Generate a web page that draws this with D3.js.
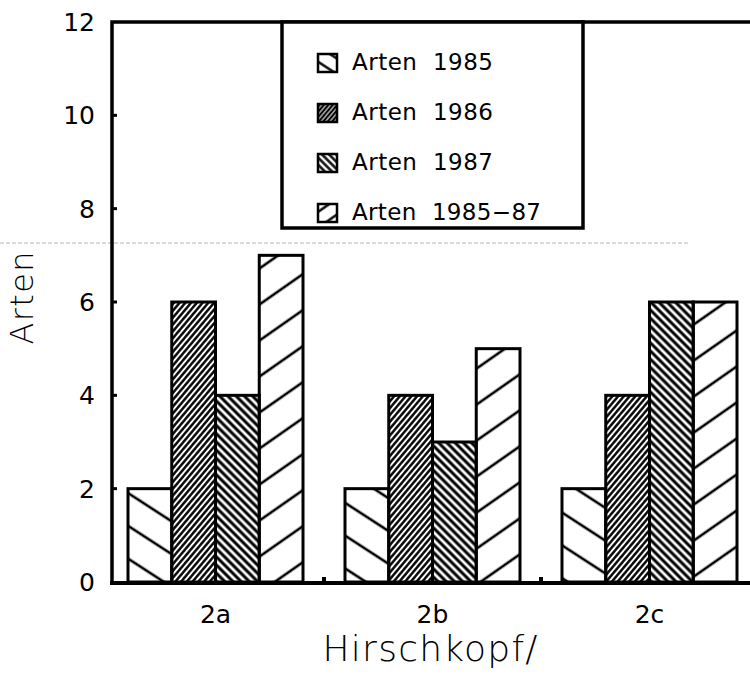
<!DOCTYPE html>
<html>
<head>
<meta charset="utf-8">
<script src="https://d3js.org/d3.v7.min.js"></script>
<style>
    body { margin: 0; background: #fff; }
    svg text { font-family: 'DejaVu Sans', sans-serif; fill: #000; }
</style>
</head>
<body>
<svg id="chart" width="750" height="680"></svg>
<script>
/* Arten per Hirschkopf site, 1985-87. Scanned plotter chart, so
   black hatched bars, heavy frame and a legend box hanging from the top. */

const sites = ['2a', '2b', '2c'];
const series = ['Arten 1985', 'Arten 1986', 'Arten 1987', 'Arten 1985\u221287'];
const arten1985 = [2, 2, 2];
const arten1986 = [6, 4, 4];
const arten1987 = [4, 3, 6];
const arten198587 = [7, 5, 6];
const yTicks = [0, 2, 4, 6, 8, 10, 12];

const values = [arten1985, arten1986, arten1987, arten198587];

// hatching per series: angle (deg, + is "\"), spacing, line width
const hatch = [
    {id: 'h85', angle: 33, gap: 27.5, width: 2.6, legendGap: 13},
    {id: 'h86', angle: -50, gap: 4.4, width: 2.4, legendGap: 3.4},
    {id: 'h87', angle: 45, gap: 5.8, width: 3.0, legendGap: 5},
    {id: 'h8587', angle: -35, gap: 29.5, width: 2.6, legendGap: 13}
];

const svg = d3.select('#chart');
const defs = svg.append('defs');

function makePattern(id, angle, gap, width) {
    let p = defs.append('pattern')
        .attr('id', id)
        .attr('patternUnits', 'userSpaceOnUse')
        .attr('width', 20)
        .attr('height', gap)
        .attr('patternTransform', `rotate(${angle})`);
    p.append('rect')
        .attr('x', 0).attr('y', gap / 2 - width / 2)
        .attr('width', 20).attr('height', width)
        .attr('fill', '#000');
}
hatch.forEach(h => {
    makePattern(h.id, h.angle, h.gap, h.width);
    makePattern(h.id + '-lg', h.angle, h.legendGap, Math.min(h.width, 2.4));
});

const x = d3.scaleBand()
    .domain(sites)
    .range([107, 758])
    .paddingInner(0.1935)
    .paddingOuter(0.0968);
const xSeries = d3.scaleBand()
    .domain(d3.range(series.length))
    .range([0, x.bandwidth()]);
const y = d3.scaleLinear().domain([0, 12]).range([582, 22]);

// faint scanner streak across the page
svg.append('line')
    .attr('x1', 0).attr('x2', 690)
    .attr('y1', 243).attr('y2', 243)
    .attr('stroke', '#999')
    .attr('stroke-width', 1)
    .attr('stroke-dasharray', '4,2')
    .attr('opacity', 0.7);

// bars
series.forEach((s, i) => {
    svg.append('g')
        .selectAll('rect')
        .data(values[i])
        .join('rect')
        .attr('x', (d, j) => x(sites[j]) + xSeries(i))
        .attr('y', d => y(d))
        .attr('width', xSeries.bandwidth())
        .attr('height', d => y(0) - y(d))
        .attr('fill', `url(#${hatch[i].id})`)
        .attr('stroke', '#000')
        .attr('stroke-width', 3);
});

// frame: left axis, top edge, bottom axis
svg.append('path')
    .attr('d', `M${x.range()[0] + 5},${y(0)} V${y(12)} H750`)
    .attr('fill', 'none')
    .attr('stroke', '#000')
    .attr('stroke-width', 3.5);
svg.append('line')
    .attr('x1', 110).attr('x2', 750)
    .attr('y1', y(0) + 1).attr('y2', y(0) + 1)
    .attr('stroke', '#000')
    .attr('stroke-width', 4);

// y axis: short inward ticks, labels on the left
const yAxis = svg.append('g');
yAxis.selectAll('line')
    .data(yTicks.filter(t => t > 0 && t < 12))
    .join('line')
    .attr('x1', 112).attr('x2', 117)
    .attr('y1', d => y(d)).attr('y2', d => y(d))
    .attr('stroke', '#000')
    .attr('stroke-width', 3);
yAxis.selectAll('text')
    .data(yTicks)
    .join('text')
    .attr('x', 95)
    .attr('y', d => y(d) + 9)
    .attr('text-anchor', 'end')
    .attr('font-size', 25)
    .text(d => d);

// x axis: small ticks between groups, site labels
svg.append('g')
    .selectAll('line')
    .data(sites.slice(1))
    .join('line')
    .attr('x1', d => x(d) - x.step() * x.paddingInner() / 2)
    .attr('x2', d => x(d) - x.step() * x.paddingInner() / 2)
    .attr('y1', y(0)).attr('y2', y(0) - 5)
    .attr('stroke', '#000')
    .attr('stroke-width', 4);
svg.append('g')
    .selectAll('text')
    .data(sites)
    .join('text')
    .attr('x', d => x(d) + x.bandwidth() / 2)
    .attr('y', 623)
    .attr('text-anchor', 'middle')
    .attr('font-size', 25)
    .text(d => d);

// axis titles
svg.append('text')
    .attr('transform', 'translate(33,298) rotate(-90)')
    .attr('text-anchor', 'middle')
    .attr('font-size', 32)
    .attr('font-weight', 300)
    .attr('textLength', 93)
    .attr('lengthAdjust', 'spacing')
    .text('Arten');
svg.append('text')
    .attr('x', 430)
    .attr('y', 661)
    .attr('text-anchor', 'middle')
    .attr('font-size', 36)
    .attr('font-weight', 300)
    .attr('textLength', 215)
    .attr('lengthAdjust', 'spacing')
    .text('Hirschkopf/');

// legend box hanging from the top frame
const legend = svg.append('g');
legend.append('rect')
    .attr('x', 282).attr('y', y(12))
    .attr('width', 301).attr('height', 206)
    .attr('fill', '#fff')
    .attr('stroke', '#000')
    .attr('stroke-width', 3.5);
const rows = legend.selectAll('g')
    .data(series)
    .join('g')
    .attr('transform', (d, i) => `translate(318,${54 + i * 50})`);
rows.append('rect')
    .attr('width', 19).attr('height', 18)
    .attr('fill', (d, i) => `url(#${hatch[i].id}-lg)`)
    .attr('stroke', '#000')
    .attr('stroke-width', 2.5);
rows.append('text')
    .attr('x', 34)
    .attr('y', 16)
    .attr('font-size', 23)
    .attr('textLength', (d, i) => i == 3 ? 189 : 141)
    .attr('lengthAdjust', 'spacing')
    .text(d => d.replace(' ', '\u00a0 '));
</script>
</body>
</html>
